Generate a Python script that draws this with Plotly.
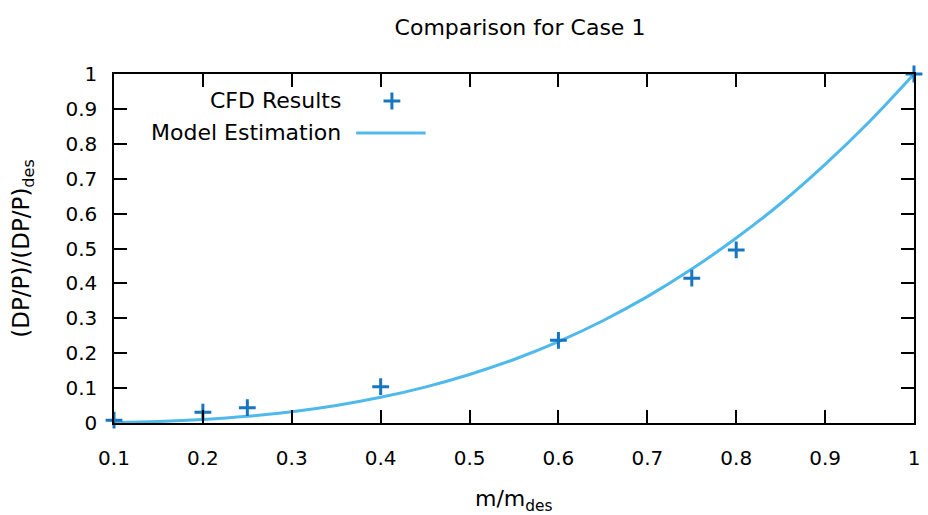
import plotly.graph_objects as go

# CFD results (normalised mass flow vs normalised pressure loss)
cfd_x = [0.1, 0.2, 0.25, 0.4, 0.6, 0.75, 0.8, 1.0]
cfd_y = [0.008, 0.031, 0.044, 0.104, 0.237, 0.415, 0.496, 1.0]

# Model estimation curve samples
model_x = [0.1, 0.15, 0.2, 0.25, 0.3, 0.35, 0.4, 0.45, 0.5, 0.55,
           0.6, 0.65, 0.7, 0.75, 0.8, 0.85, 0.9, 0.95, 1.0]
model_y = [0.0014, 0.0045, 0.0102, 0.0192, 0.0323, 0.0502, 0.0736, 0.1029,
           0.139, 0.182, 0.233, 0.293, 0.362, 0.441, 0.530, 0.629, 0.741,
           0.864, 1.0]

x_ticks = [0.1, 0.2, 0.3, 0.4, 0.5, 0.6, 0.7, 0.8, 0.9, 1.0]
x_tick_text = ["0.1", "0.2", "0.3", "0.4", "0.5", "0.6", "0.7", "0.8", "0.9", "1"]
y_ticks = [0, 0.1, 0.2, 0.3, 0.4, 0.5, 0.6, 0.7, 0.8, 0.9, 1.0]
y_tick_text = ["0", "0.1", "0.2", "0.3", "0.4", "0.5", "0.6", "0.7", "0.8", "0.9", "1"]

MARK = "#1876c0"
LINE = "#4fb9ec"
FONT = "DejaVu Sans"

# plot area in pixels
L, R, T, B = 114, 920, 74, 423
W, H = 928, 515


def px_x(p):
    return (p - L) / (R - L)


def px_y(p):
    return (B - p) / (B - T)


fig = go.Figure()
fig.add_trace(go.Scatter(
    x=model_x, y=model_y, mode="lines", line=dict(color=LINE, width=3, shape="spline"),
    showlegend=False, cliponaxis=False))
fig.add_trace(go.Scatter(
    x=cfd_x, y=cfd_y, mode="markers",
    marker=dict(symbol="cross-thin", size=12, line=dict(color=MARK, width=3)),
    showlegend=False, cliponaxis=False))

# Key samples drawn on an overlay axis measured in pixels over the plot area
fig.add_trace(go.Scatter(
    x=[394], y=[101], mode="markers", xaxis="x2", yaxis="y2",
    marker=dict(symbol="cross-thin", size=12, line=dict(color=MARK, width=3)),
    showlegend=False, hoverinfo="skip", cliponaxis=False))
fig.add_trace(go.Scatter(
    x=[358, 428], y=[133, 133], mode="lines", xaxis="x2", yaxis="y2",
    line=dict(color=LINE, width=3),
    showlegend=False, hoverinfo="skip", cliponaxis=False))

axis_common = dict(
    showgrid=False, zeroline=False, showline=True, linecolor="black", linewidth=1.5,
    mirror="allticks", ticks="inside", ticklen=13, tickwidth=1.5, tickcolor="black",
    tickfont=dict(family=FONT, size=20, color="black"))

fig.update_layout(
    width=W, height=H,
    margin=dict(l=L, r=W - R, t=T, b=H - B),
    paper_bgcolor="white", plot_bgcolor="white",
    font=dict(family=FONT, color="black"),
    title=dict(text="Comparison for Case 1", x=520 / W, xanchor="center",
               y=1 - 27 / H, yanchor="middle", font=dict(family=FONT, size=22)),
    xaxis=dict(range=[0.1, 1.0], tickvals=x_ticks, ticktext=x_tick_text,
               ticklabelstandoff=16, **axis_common),
    yaxis=dict(range=[0, 1.0], tickvals=y_ticks, ticktext=y_tick_text,
               ticklabelstandoff=11, **axis_common),
    xaxis2=dict(domain=[0, 1], range=[L, R], visible=False, overlaying="x",
                anchor="y2", fixedrange=True),
    yaxis2=dict(domain=[0, 1], range=[B, T], visible=False, overlaying="y",
                anchor="x2", fixedrange=True),
    annotations=[
        dict(text="m/m<sub>des</sub>", xref="paper", yref="paper",
             x=px_x(517), y=px_y(500), xanchor="center", yanchor="middle",
             showarrow=False, font=dict(family=FONT, size=22)),
        dict(text="(DP/P)/(DP/P)<sub>des</sub>", xref="paper", yref="paper",
             x=px_x(22), y=px_y(248), xanchor="center", yanchor="middle",
             textangle=-90, showarrow=False, font=dict(family=FONT, size=23)),
        dict(text="CFD Results", xref="paper", yref="paper",
             x=px_x(345), y=px_y(101), xanchor="right", yanchor="middle",
             showarrow=False, font=dict(family=FONT, size=22)),
        dict(text="Model Estimation", xref="paper", yref="paper",
             x=px_x(345), y=px_y(132), xanchor="right", yanchor="middle",
             showarrow=False, font=dict(family=FONT, size=22)),
    ],
)

fig.write_html("out.html")
